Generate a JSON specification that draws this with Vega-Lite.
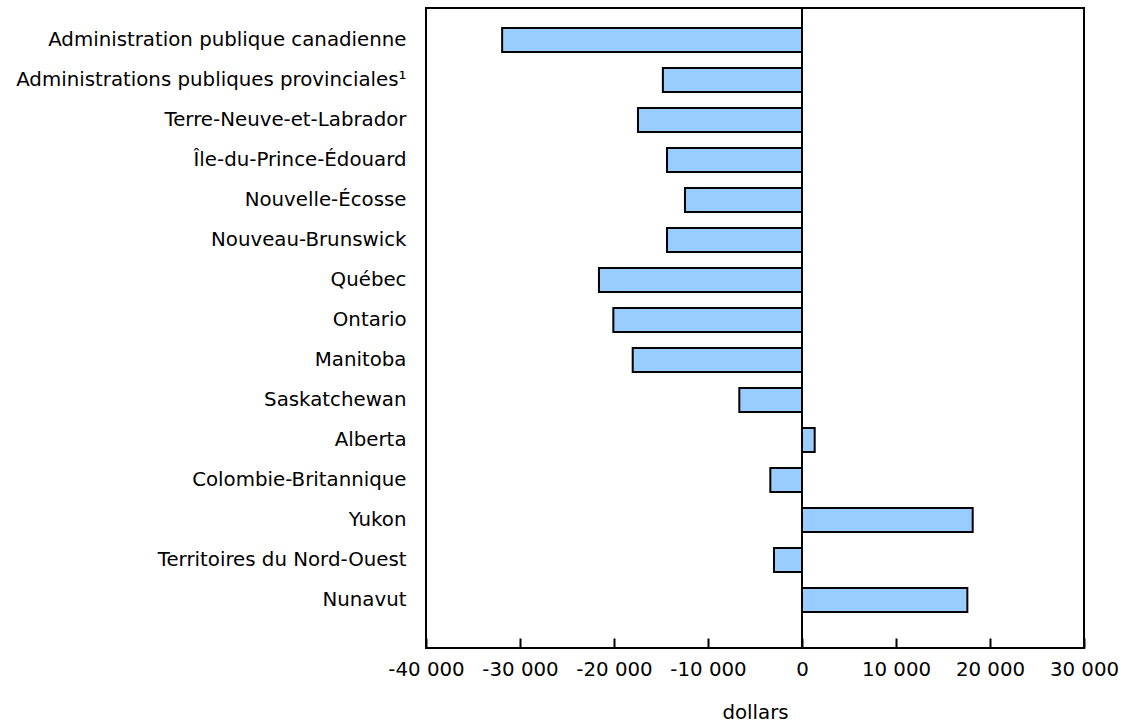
{
  "$schema": "https://vega.github.io/schema/vega-lite/v6.json",
  "autosize": {"type": "none"},
  "padding": {"left": 426, "top": 8, "right": 39, "bottom": 75},
  "width": 658,
  "height": 640,
  "background": "white",
  "config": {
    "view": {"stroke": "black", "strokeWidth": 2},
    "font": "DejaVu Sans"
  },
  "data": {
    "values": [
      {"region": "Administration publique canadienne", "value": -31900},
      {"region": "Administrations publiques provinciales¹", "value": -14800},
      {"region": "Terre-Neuve-et-Labrador", "value": -17450},
      {"region": "Île-du-Prince-Édouard", "value": -14360},
      {"region": "Nouvelle-Écosse", "value": -12450},
      {"region": "Nouveau-Brunswick", "value": -14360},
      {"region": "Québec", "value": -21600},
      {"region": "Ontario", "value": -20070},
      {"region": "Manitoba", "value": -18010},
      {"region": "Saskatchewan", "value": -6670},
      {"region": "Alberta", "value": 1350},
      {"region": "Colombie-Britannique", "value": -3370},
      {"region": "Yukon", "value": 18160},
      {"region": "Territoires du Nord-Ouest", "value": -2980},
      {"region": "Nunavut", "value": 17590}
    ]
  },
  "layer": [
    {
      "mark": {"type": "bar", "fill": "#99CCFF", "stroke": "black", "strokeWidth": 2},
      "encoding": {
        "y": {
          "field": "region",
          "type": "nominal",
          "sort": null,
          "scale": {"paddingInner": 0.4, "paddingOuter": 0.7, "align": 0.357},
          "axis": {
            "title": null,
            "domain": false,
            "ticks": false,
            "labelPadding": 20,
            "labelFontSize": 19.8,
            "labelColor": "black",
            "labelLimit": 500
          }
        },
        "x": {
          "field": "value",
          "type": "quantitative",
          "scale": {"domain": [-40000, 30000], "nice": false},
          "axis": {
            "title": "dollars",
            "values": [-40000, -30000, -20000, -10000, 0, 10000, 20000, 30000],
            "format": ",d",
            "labelExpr": "replace(replace(datum.label, /,/g, ' '), /\u2212/g, '-')",
            "labelOverlap": false,
            "labelFlush": false,
            "grid": false,
            "domain": false,
            "tickSize": -10,
            "tickColor": "black",
            "tickWidth": 2,
            "labelFontSize": 19.8,
            "labelColor": "black",
            "labelPadding": 21,
            "titleFontSize": 19.8,
            "titleFontWeight": "normal",
            "titleColor": "black",
            "titlePadding": 24
          }
        }
      }
    },
    {
      "data": {"values": [{"zero": 0}]},
      "mark": {"type": "rule", "color": "black", "strokeWidth": 2},
      "encoding": {"x": {"field": "zero", "type": "quantitative"}}
    }
  ]
}
